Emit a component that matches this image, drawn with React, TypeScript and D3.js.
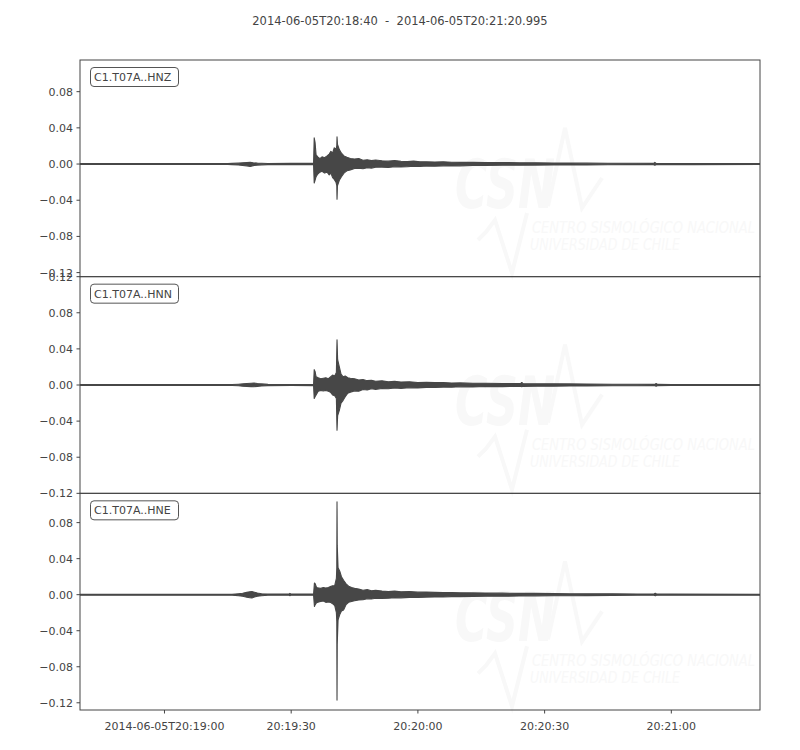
import React from "react";
import * as d3 from "d3";

const TITLE = "2014-06-05T20:18:40  -  2014-06-05T20:21:20.995";
const START = "2014-06-05T20:18:40Z";
const END = "2014-06-05T20:21:20.995Z";

const xTickTimes = [
  "2014-06-05T20:19:00Z",
  "2014-06-05T20:19:30Z",
  "2014-06-05T20:20:00Z",
  "2014-06-05T20:20:30Z",
  "2014-06-05T20:21:00Z",
];
const xTickLabels = ["2014-06-05T20:19:00", "20:19:30", "20:20:00", "20:20:30", "20:21:00"];

const channels = ["C1.T07A..HNZ", "C1.T07A..HNN", "C1.T07A..HNE"];
const yDomains: [number, number][] = [
  [-0.1245, 0.115],
  [-0.12, 0.12],
  [-0.128, 0.1125],
];
const yTicks: number[][] = [
  [0.08, 0.04, 0.0, -0.04, -0.08, -0.12],
  [0.12, 0.08, 0.04, 0.0, -0.04, -0.08, -0.12],
  [0.08, 0.04, 0.0, -0.04, -0.08, -0.12],
];

// envelope samples: [seconds after start, upper, lower]
type Env = [number, number, number][];

const hnz: Env = [
  [0, 0.0005, -0.0005], [35, 0.0005, -0.0005],
  [36, 0.0007, -0.0007], [37.5, 0.001, -0.0011], [38.5, 0.0013, -0.0016], [39.5, 0.0016, -0.002],
  [40.3, 0.0018, -0.0027], [41, 0.0014, -0.0018], [42, 0.001, -0.0012], [43, 0.0008, -0.0009],
  [44.5, 0.0006, -0.0006], [50, 0.0007, -0.0007], [55.3, 0.0007, -0.0007],
  [55.45, 0.029, -0.021], [55.65, 0.024, -0.018], [55.9, 0.01, -0.014], [56.3, 0.008, -0.011],
  [56.8, 0.006, -0.009], [57.3, 0.008, -0.008], [57.9, 0.007, -0.01], [58.5, 0.009, -0.009],
  [59.0, 0.011, -0.012], [59.4, 0.014, -0.01], [59.8, 0.012, -0.015], [60.2, 0.018, -0.017],
  [60.6, 0.016, -0.02], [60.8, 0.02, -0.024], [60.85, 0.03, -0.039], [60.95, 0.022, -0.024],
  [61.4, 0.016, -0.018], [61.9, 0.012, -0.014], [62.5, 0.009, -0.01], [63.2, 0.0075, -0.0075],
  [64, 0.006, -0.0065], [65, 0.0055, -0.005], [66, 0.006, -0.0045], [67, 0.0042, -0.0052],
  [68, 0.0048, -0.004], [69, 0.0038, -0.0045], [70, 0.0045, -0.0036], [71.5, 0.0036, -0.0034],
  [73, 0.0032, -0.0038], [74.5, 0.0038, -0.003], [76, 0.003, -0.0032], [77.5, 0.0027, -0.003],
  [79, 0.0032, -0.0024], [80.5, 0.0024, -0.0027], [82, 0.0026, -0.0022], [84, 0.0022, -0.0024],
  [86, 0.0024, -0.002], [88, 0.002, -0.0018], [90, 0.0018, -0.002], [93, 0.0019, -0.0016],
  [96, 0.0016, -0.0017], [100, 0.0017, -0.0014], [104, 0.0014, -0.0014], [108, 0.0013, -0.0012],
  [112, 0.0012, -0.0011], [116, 0.0011, -0.001], [120, 0.001, -0.001], [125, 0.0009, -0.0008],
  [130, 0.0008, -0.0007], [135.8, 0.0007, -0.0007], [136.1, 0.0018, -0.0014], [136.4, 0.0007, -0.0007],
  [145, 0.0006, -0.0006], [161, 0.0005, -0.0005],
];

const hnn: Env = [
  [0, 0.0005, -0.0005], [36, 0.0005, -0.0005],
  [37.5, 0.0009, -0.0009], [38.5, 0.0012, -0.0013], [39.5, 0.0016, -0.0017], [40.5, 0.002, -0.0018],
  [41.2, 0.0022, -0.002], [42, 0.0016, -0.0015], [43, 0.0012, -0.0011], [44.5, 0.0007, -0.0007],
  [50, 0.0006, -0.0006], [55.3, 0.0007, -0.0007],
  [55.45, 0.017, -0.015], [55.65, 0.015, -0.013], [55.9, 0.009, -0.011], [56.4, 0.008, -0.007],
  [57, 0.007, -0.006], [57.6, 0.0075, -0.0065], [58.2, 0.008, -0.006], [58.8, 0.007, -0.007],
  [59.3, 0.009, -0.008], [59.8, 0.011, -0.011], [60.3, 0.01, -0.012], [60.7, 0.014, -0.015],
  [60.85, 0.05, -0.05], [61.0, 0.028, -0.034], [61.4, 0.02, -0.028], [61.8, 0.012, -0.02],
  [62.3, 0.009, -0.017], [62.8, 0.01, -0.013], [63.4, 0.008, -0.009], [64, 0.0075, -0.008],
  [65, 0.007, -0.0065], [66, 0.0055, -0.0068], [67, 0.006, -0.005], [68, 0.0048, -0.0055],
  [69, 0.0052, -0.0042], [70, 0.0042, -0.0048], [71.5, 0.0046, -0.0038], [73, 0.0036, -0.0042],
  [74.5, 0.004, -0.0034], [76, 0.0032, -0.0037], [78, 0.0035, -0.003], [80, 0.0028, -0.0032],
  [82, 0.003, -0.0026], [84, 0.0026, -0.0028], [86, 0.0027, -0.0023], [88, 0.0022, -0.0024],
  [90, 0.0023, -0.002], [93, 0.0019, -0.0021], [96, 0.002, -0.0017], [100, 0.0017, -0.0018],
  [104.3, 0.0015, -0.0015], [104.6, 0.0028, -0.002], [104.9, 0.0015, -0.0015],
  [108, 0.0014, -0.0013], [112, 0.0013, -0.0013], [116, 0.0012, -0.0011], [120, 0.0011, -0.001],
  [126, 0.0009, -0.0009], [132, 0.0008, -0.0008], [136.1, 0.0007, -0.0007], [136.4, 0.0017, -0.0013],
  [136.7, 0.0007, -0.0007], [140, 0.0006, -0.0006], [161, 0.0005, -0.0005],
];

const hne: Env = [
  [0, 0.0005, -0.0005], [36, 0.0005, -0.0005],
  [37.5, 0.0011, -0.0011], [38.5, 0.0016, -0.0018], [39.5, 0.0026, -0.0028], [40.2, 0.0033, -0.0034],
  [40.7, 0.0035, -0.0036], [41.3, 0.0028, -0.0026], [42, 0.0018, -0.0018], [43, 0.0011, -0.0011],
  [44.5, 0.0007, -0.0007], [49.5, 0.0007, -0.0007], [49.7, 0.0014, -0.0011], [49.9, 0.0007, -0.0007],
  [55.3, 0.0007, -0.0007],
  [55.5, 0.013, -0.013], [55.7, 0.012, -0.011], [56, 0.008, -0.009], [56.5, 0.0075, -0.008],
  [57, 0.007, -0.0075], [57.6, 0.008, -0.007], [58.2, 0.0075, -0.0085], [58.8, 0.008, -0.008],
  [59.3, 0.009, -0.0085], [59.8, 0.01, -0.01], [60.3, 0.01, -0.012], [60.7, 0.018, -0.02],
  [60.8, 0.03, -0.03], [60.85, 0.103, -0.117], [60.9, 0.055, -0.055], [61.1, 0.03, -0.028],
  [61.5, 0.026, -0.022], [61.9, 0.02, -0.018], [62.4, 0.016, -0.017], [63, 0.012, -0.011],
  [63.6, 0.0095, -0.0085], [64.3, 0.008, -0.0075], [65, 0.007, -0.0068], [66, 0.0062, -0.0058],
  [67, 0.005, -0.0056], [68, 0.0056, -0.0046], [69, 0.0044, -0.0048], [70, 0.005, -0.004],
  [71.5, 0.004, -0.0042], [73, 0.0036, -0.004], [74.5, 0.004, -0.0033], [76, 0.0032, -0.0035],
  [78, 0.0034, -0.003], [80, 0.0028, -0.003], [82, 0.003, -0.0027], [84, 0.0026, -0.0026],
  [86, 0.0024, -0.0025], [88, 0.0025, -0.0021], [90, 0.0021, -0.0022], [93, 0.002, -0.0019],
  [96, 0.0019, -0.0017], [100, 0.0017, -0.0017], [104, 0.0015, -0.0015], [108, 0.0014, -0.0013],
  [112, 0.0013, -0.0012], [116, 0.0011, -0.0011], [120, 0.001, -0.001], [126, 0.0009, -0.0008],
  [132, 0.0008, -0.0007], [135.9, 0.0007, -0.0007], [136.2, 0.0016, -0.0013], [136.5, 0.0007, -0.0007],
  [140, 0.0006, -0.0006], [161, 0.0005, -0.0005],
];

const traces: Env[] = [hnz, hnn, hne];

const W = 800;
const H = 750;
const LEFT = 80;
const RIGHT = 760;
const TOP = 60;
const BOTTOM = 710;
const FONT = "DejaVu Sans, sans-serif";
const INK = "#444";
const TRACE = "#474747";
const WM = "#f8f8f8";

const fmt = (v: number) => {
  const s = Math.abs(v).toFixed(2);
  return v < 0 ? "\u2212" + s : s;
};

function Watermark({ top }: { top: number }) {
  const y = (r: number) => top + r;
  return (
    <g fill={WM} stroke="none">
      <text
        x={455}
        y={y(148)}
        fontFamily={FONT}
        fontWeight="bold"
        fontStyle="italic"
        fontSize={68}
        textLength={100}
        lengthAdjust="spacingAndGlyphs"
      >
        CSN
      </text>
      <polyline
        points={`548,${y(146)} 565,${y(68)} 582,${y(148)} 602,${y(118)}`}
        fill="none"
        stroke={WM}
        strokeWidth={4}
        strokeLinejoin="miter"
      />
      <polyline
        points={`478,${y(180)} 486,${y(172)} 495,${y(160)} 512,${y(213)} 527,${y(153)}`}
        fill="none"
        stroke={WM}
        strokeWidth={4}
      />
      <text
        x={532}
        y={y(173)}
        fontFamily={FONT}
        fontStyle="italic"
        fontSize={15}
        textLength={223}
        lengthAdjust="spacingAndGlyphs"
      >
        CENTRO SISMOLÓGICO NACIONAL
      </text>
      <text
        x={530}
        y={y(190)}
        fontFamily={FONT}
        fontStyle="italic"
        fontSize={15}
        textLength={150}
        lengthAdjust="spacingAndGlyphs"
      >
        UNIVERSIDAD DE CHILE
      </text>
    </g>
  );
}

export default function App() {
  const t0 = new Date(START);
  const t1 = new Date(END);
  const x = d3.scaleUtc().domain([t0, t1]).range([LEFT, RIGHT]);
  const ph = (BOTTOM - TOP) / channels.length;

  return (
    <svg
      width={W}
      height={H}
      style={{ position: "absolute", left: 0, top: 0, background: "#fff" }}
      fontFamily={FONT}
    >
      <rect x={0} y={0} width={W} height={H} fill="#fff" />
      <text
        x={400}
        y={25}
        textAnchor="middle"
        fontSize={11.5}
        fill={INK}
        style={{ whiteSpace: "pre" }}
      >
        {TITLE}
      </text>
      <defs>
        {channels.map((c, i) => (
          <clipPath id={`clip${i}`} key={c}>
            <rect x={LEFT} y={TOP + i * ph} width={RIGHT - LEFT} height={ph} />
          </clipPath>
        ))}
      </defs>
      {channels.map((c, i) => {
        const top = TOP + i * ph;
        const y = d3.scaleLinear().domain(yDomains[i]).range([top + ph, top]);
        const area = d3
          .area<[number, number, number]>()
          .x((d) => x(new Date(t0.getTime() + d[0] * 1000)))
          .y0((d) => y(d[2]))
          .y1((d) => y(d[1]));
        return (
          <g key={c}>
            <Watermark top={top} />
            <g clipPath={`url(#clip${i})`}>
              <path
                d={area(traces[i]) || ""}
                fill={TRACE}
                stroke={TRACE}
                strokeWidth={1.1}
                strokeLinejoin="round"
              />
            </g>
            <rect
              x={LEFT}
              y={top}
              width={RIGHT - LEFT}
              height={ph}
              fill="none"
              stroke={INK}
              strokeWidth={1}
            />
            {yTicks[i].map((v) => (
              <g key={v}>
                <line x1={LEFT - 3.5} x2={LEFT} y1={y(v)} y2={y(v)} stroke={INK} strokeWidth={1} />
                <text
                  x={LEFT - 7}
                  y={y(v)}
                  dy="0.36em"
                  textAnchor="end"
                  fontSize={11}
                  fill={INK}
                >
                  {fmt(v)}
                </text>
              </g>
            ))}
            <rect
              x={90.5}
              y={top + 7.5}
              width={88}
              height={19}
              rx={3.5}
              fill="#fff"
              stroke="#555"
              strokeWidth={1}
            />
            <text x={94} y={top + 21} fontSize={11} fill={INK}>
              {c}
            </text>
          </g>
        );
      })}
      {xTickTimes.map((s, k) => {
        const px = x(new Date(s));
        return (
          <g key={s}>
            <line x1={px} x2={px} y1={BOTTOM} y2={BOTTOM + 3.5} stroke={INK} strokeWidth={1} />
            <text x={px} y={BOTTOM + 20} textAnchor="middle" fontSize={11} fill={INK}>
              {xTickLabels[k]}
            </text>
          </g>
        );
      })}
    </svg>
  );
}
